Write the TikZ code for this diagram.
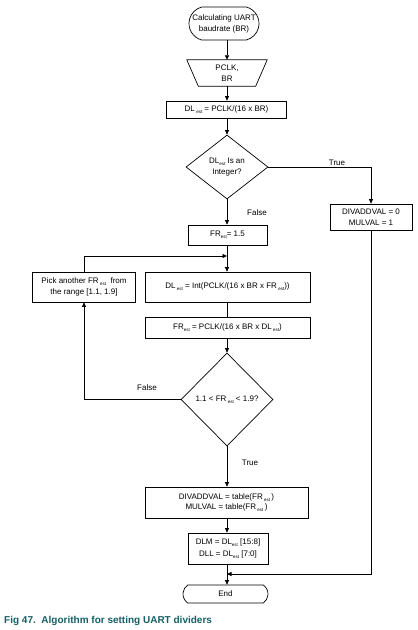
\documentclass[tikz,border=0pt]{standalone}
\usepackage{fontspec}
\setmainfont{Liberation Sans}
\usetikzlibrary{arrows.meta,shapes.geometric,shapes.misc}
\newcommand\est{\raisebox{-2pt}{\fontsize{4.5}{5}\selectfont est}}
\definecolor{capteal}{RGB}{20,95,100}
\begin{document}
\begin{tikzpicture}[x=1pt,y=-1pt,
  every node/.style={font=\fontsize{8}{11}\selectfont},
  box/.style={draw, line width=0.7pt, align=center, inner sep=0pt},
  term/.style={draw, line width=0.7pt, rounded rectangle, align=center, inner sep=0pt},
  dia/.style={draw, line width=0.7pt, diamond, align=center, inner sep=0pt, aspect=1.3},
  flow/.style={line width=0.7pt, -{Triangle[length=4.5pt,width=4pt]}},
  plain/.style={line width=0.7pt},
  lbl/.style={inner sep=0pt}
]
\useasboundingbox (0,0) rectangle (418,630);

\node[term, rounded rectangle arc length=150, minimum width=70pt, minimum height=33pt] (start) at (224,23.5) {Calculating UART\\baudrate (BR)};
\node[align=center, inner sep=0pt, minimum width=57pt, minimum height=26pt, font=\fontsize{8}{10.5}\selectfont] (inp) at (227,73) {PCLK,\\BR};
\draw[line width=0.7pt] ([xshift=-11.5pt]inp.north west) -- ([xshift=11.5pt]inp.north east) -- (inp.south east) -- (inp.south west) -- cycle;
\node[box, minimum width=120pt, minimum height=17pt] (dl1) at (226.5,109.5) {DL\,\est\ = PCLK/(16 x BR)};
\node[dia, minimum width=82pt, minimum height=64pt, font=\fontsize{8}{10.5}\selectfont] (d1) at (227,167) {DL\est\ Is an\\Integer?};
\node[box, minimum width=82pt, minimum height=26pt, font=\fontsize{8}{10.5}\selectfont] (div) at (371,217) {DIVADDVAL = 0\\MULVAL = 1};
\node[box, minimum width=79pt, minimum height=20pt] (fr1) at (227.5,235) {FR\est = 1.5};
\coordinate (m1) at (227,256);
\node[box, minimum width=165pt, minimum height=30pt] (dl2) at (227.5,287) {DL\,\est\ = Int(PCLK/(16 x BR x FR\,\est))};
\node[box, minimum width=165pt, minimum height=21pt] (fr2) at (227.5,327.5) {FR\est\ = PCLK/(16 x BR x DL\,\est)};
\node[box, minimum width=103pt, minimum height=30pt, font=\fontsize{8}{10.5}\selectfont] (pick) at (84,287) {Pick another FR\,\est\ \ from\\the range [1.1, 1.9]};
\node[dia, minimum width=92pt, minimum height=93pt] (d2) at (227,399.5) {1.1 < FR\,\est\ < 1.9?};
\node[box, minimum width=163pt, minimum height=31pt, font=\fontsize{8}{10}\selectfont] (tab) at (226.5,502.5) {DIVADDVAL = table(FR\,\est\,)\\MULVAL = table(FR\,\est\,)};
\node[box, minimum width=80pt, minimum height=31pt, font=\fontsize{8}{12}\selectfont] (dlm) at (228,548.5) {DLM = DL\est\ [15:8]\\DLL = DL\est\ [7:0]};
\coordinate (m2) at (227,574);
\node[term, rounded rectangle arc length=110, minimum width=85pt, minimum height=18pt] (end) at (225.5,594) {End};

\draw[flow] (start.south -| m1) -- (inp.north -| m1);
\draw[flow] (inp.south -| m1) -- (dl1.north -| m1);
\draw[flow] (dl1.south -| m1) -- (d1.north);
\draw[flow] (d1.east) -| (div.north);
\node[lbl] (ltrue1) at (337,163) {True};
\draw[flow] (d1.south) -- (fr1.north -| d1.south);
\node[lbl] (lfalse1) at (257,213) {False};
\draw[plain] (fr1.south -| m1) -- (m1);
\draw[flow] (m1) -- (dl2.north -| m1);
\draw[flow] (pick.north) |- (m1);
\draw[plain] (dl2.south -| m1) -- (fr2.north -| m1);
\draw[flow] (fr2.south -| d2.north) -- (d2.north);
\draw[flow] (d2.west) -| (pick.south);
\node[lbl] (lfalse2) at (147,388) {False};
\draw[flow] (d2.south) -- (tab.north -| d2.south);
\node[lbl] (ltrue2) at (250,463) {True};
\draw[flow] (tab.south -| m2) -- (dlm.north -| m2);
\draw[plain] (dlm.south -| m2) -- (m2);
\draw[flow] (m2) -- (end.north -| m2);
\draw[flow] (div.south) |- (m2);

\node[anchor=base west, inner sep=0pt, text=capteal, font=\fontsize{10}{12}\selectfont\bfseries] (cap) at (4,623) {Fig 47.\ \ Algorithm for setting UART dividers};
\end{tikzpicture}
\end{document}
